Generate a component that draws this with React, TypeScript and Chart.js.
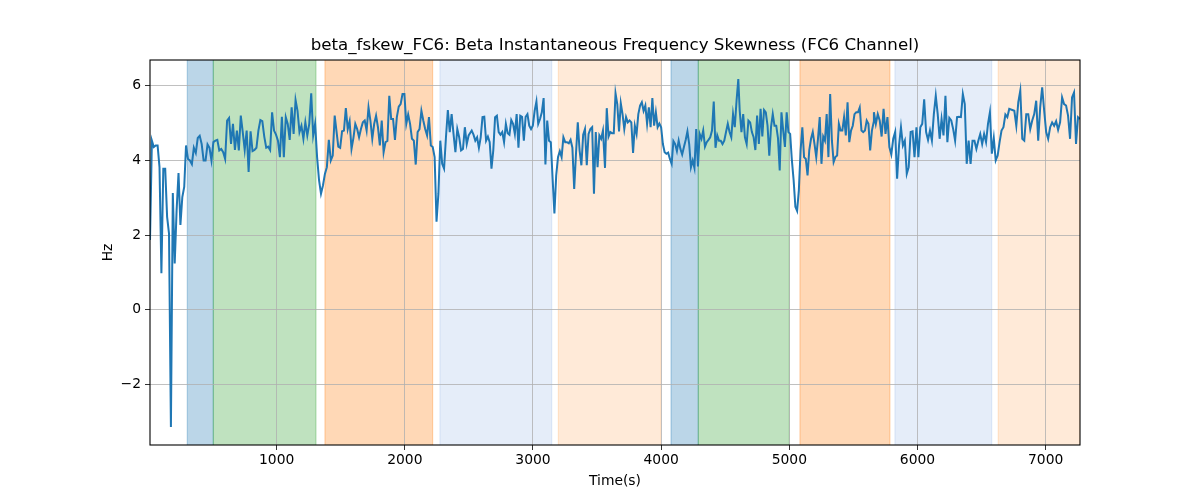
import React, { useEffect, useRef } from "react";
import { Chart, registerables } from "chart.js";

Chart.register(...registerables);

const TITLE = "beta_fskew_FC6: Beta Instantaneous Frequency Skewness (FC6 Channel)";
const X_LABEL = "Time(s)";
const Y_LABEL = "Hz";

const X_MIN = 12;
const X_MAX = 7268;
const Y_MIN = -3.62;
const Y_MAX = 6.69;

const xTicks = [1000, 2000, 3000, 4000, 5000, 6000, 7000];
const yTicks = [-2, 0, 2, 4, 6];

// Segments of the series: [startTime, endTime], evenly sampled inside each segment
const segTimes: [number, number][] = [
  [12, 279],
  [293, 1453],
  [1481, 2498],
  [2522, 3546],
  [3562, 4602],
  [4613, 5658],
  [5660, 6716],
  [6740, 7268],
];

const seg1Values = [1.87, 4.53, 4.36, 4.4, 4.4, 3.82, 0.98, 3.78, 3.78, 2.49, 2.04, -3.14, 3.13, 1.24, 2.67, 3.66, 2.27, 3.02, 3.29];
const seg2Values = [4.4, 4.04, 4.0, 3.9, 4.34, 4.2, 4.6, 4.66, 4.44, 4.0, 4.0, 4.43, 4.34, 4.0, 4.49, 4.53, 4.55, 4.27, 4.31, 4.22, 4.04, 5.07, 5.14, 4.44, 4.98, 4.28, 4.8, 4.27, 5.2, 4.76, 4.28, 4.8, 3.69, 4.78, 4.25, 4.28, 4.34, 4.8, 5.08, 5.05, 4.64, 4.34, 4.37, 4.28, 5.29, 4.8, 4.69, 4.53, 4.09, 5.17, 4.09, 5.16, 4.98, 4.55, 5.42, 4.71, 5.62, 5.33, 4.76, 4.93, 4.58, 5.02, 4.67, 4.98, 5.8, 4.67, 4.98, 4.09, 3.47, 3.11, 3.33, 3.64, 3.82, 4.55, 4.0, 4.13, 5.2];
const seg3Values = [4.37, 4.34, 4.78, 4.8, 5.4, 4.84, 5.05, 4.31, 4.6, 4.98, 4.84, 4.62, 4.84, 5.02, 5.07, 4.8, 5.42, 5.07, 4.58, 4.98, 5.2, 4.89, 4.4, 5.07, 4.22, 4.49, 4.52, 5.73, 5.11, 5.11, 4.55, 5.16, 5.44, 5.51, 5.78, 5.78, 4.98, 5.23, 4.98, 4.58, 4.53, 3.89, 4.76, 4.84, 5.33, 5.07, 4.84, 4.67, 5.16, 4.4, 4.36, 4.09, 2.36, 3.11, 4.53, 3.91, 3.78, 4.62, 5.35, 4.76, 5.24, 4.71, 4.22, 4.84, 4.62, 4.27, 4.31, 4.89, 4.44, 4.67];
const seg4Values = [4.8, 4.69, 4.53, 4.62, 4.34, 4.62, 5.16, 5.17, 4.53, 4.64, 4.49, 3.78, 4.27, 5.16, 5.2, 4.76, 4.69, 4.76, 4.49, 4.98, 4.73, 4.69, 5.08, 4.98, 4.71, 5.24, 4.34, 5.2, 5.17, 4.53, 5.17, 5.24, 4.93, 4.84, 4.93, 5.33, 5.58, 4.98, 5.11, 5.29, 5.67, 3.89, 5.07, 4.53, 4.49, 3.51, 2.58, 3.6, 4.09, 4.25, 4.09, 4.62, 4.49, 4.49, 4.46, 4.55, 4.34, 3.24, 4.18, 5.02, 4.27, 3.87, 4.69, 4.84, 3.87, 4.71, 4.84, 4.89, 3.11, 4.76, 3.82, 4.67, 4.58, 4.8];
const seg5Values = [3.8, 5.4, 4.64, 4.76, 4.73, 4.73, 5.8, 5.51, 4.78, 5.53, 5.24, 4.84, 5.16, 5.02, 5.07, 5.02, 4.2, 4.93, 4.71, 5.24, 5.47, 5.56, 5.33, 5.47, 4.98, 5.42, 4.89, 5.67, 4.93, 5.29, 4.89, 4.99, 4.89, 4.44, 4.22, 4.18, 4.21, 4.04, 3.91, 4.52, 4.44, 4.25, 4.53, 4.31, 4.16, 4.36, 4.55, 4.78, 4.44, 3.82, 4.0, 3.8, 4.84, 3.84, 4.71, 4.58, 4.8, 4.37, 4.49, 4.55, 4.62, 4.8, 5.58, 4.34, 4.67, 4.53, 4.53, 4.44, 4.53, 4.76, 4.98, 4.76, 4.62, 5.24, 4.89, 5.6, 6.18];
const seg6Values = [5.33, 4.76, 5.24, 4.62, 4.44, 5.07, 5.02, 4.76, 4.62, 4.28, 5.2, 4.44, 5.38, 4.64, 5.35, 5.29, 4.93, 4.13, 4.89, 5.24, 4.93, 4.93, 4.6, 3.73, 5.29, 4.8, 4.36, 5.29, 4.76, 4.71, 4.0, 3.47, 2.76, 2.65, 3.2, 4.27, 4.89, 4.09, 4.04, 3.6, 4.28, 4.58, 4.76, 4.44, 4.09, 4.58, 5.16, 3.91, 4.64, 4.53, 5.24, 4.09, 5.78, 4.53, 3.96, 4.09, 4.13, 4.98, 4.8, 4.8, 5.16, 4.67, 5.56, 4.49, 4.8, 4.93, 5.24, 5.29, 5.29, 5.42, 4.8, 4.76, 4.8, 5.07, 4.98, 4.27, 4.8, 5.02];
const seg7Values = [5.29, 4.98, 5.24, 5.07, 4.64, 5.38, 4.71, 5.16, 4.36, 4.16, 4.58, 4.76, 3.51, 4.4, 4.89, 4.4, 4.53, 3.64, 3.82, 4.76, 4.78, 4.09, 4.89, 4.09, 4.89, 4.98, 5.64, 4.76, 4.55, 4.8, 4.53, 5.24, 5.73, 5.24, 4.58, 5.11, 4.67, 5.73, 4.49, 5.14, 5.07, 4.84, 4.53, 5.16, 5.17, 5.16, 5.78, 5.51, 3.91, 4.53, 3.91, 4.53, 4.53, 4.31, 4.53, 4.71, 4.44, 4.71, 4.49, 4.98, 5.29, 4.18, 4.6, 4.0, 4.13, 4.49, 4.8, 4.89, 5.23, 5.16, 5.38];
const seg8Values = [5.35, 5.33, 4.93, 5.56, 5.87, 4.58, 4.53, 5.24, 5.24, 4.84, 5.07, 5.24, 5.6, 4.53, 5.42, 5.96, 5.33, 4.76, 4.58, 4.89, 5.02, 4.93, 5.05, 4.82, 5.02, 5.69, 5.51, 5.47, 5.2, 4.58, 5.69, 5.82, 4.44, 5.16, 5.11];

const segValues = [seg1Values, seg2Values, seg3Values, seg4Values, seg5Values, seg6Values, seg7Values, seg8Values];

// Shaded intervals
const spanStarts = [303, 506, 1377, 2274, 3198, 4077, 4290, 5083, 5824, 6630];
const spanEnds = [506, 1307, 2217, 3146, 3996, 4290, 5000, 5785, 6579, 7268];
const spanKinds = ["blue", "green", "orange", "lightblue", "lightorange", "blue", "green", "orange", "lightblue", "lightorange"];

const SPAN_COLORS: Record<string, string> = {
  blue: "rgba(31,119,180,0.3)",
  green: "rgba(44,160,44,0.3)",
  orange: "rgba(255,127,14,0.3)",
  lightblue: "rgba(70,130,210,0.14)",
  lightorange: "rgba(255,127,14,0.16)",
};

const FONT = "'DejaVu Sans', sans-serif";

function buildPoints() {
  const pts: { x: number; y: number }[] = [];
  segValues.forEach((vals, s) => {
    const [t0, t1] = segTimes[s];
    const n = vals.length;
    vals.forEach((v, i) => {
      pts.push({ x: t0 + (n > 1 ? (i * (t1 - t0)) / (n - 1) : 0), y: v });
    });
  });
  return pts;
}

const fmt = (v: number) => (v < 0 ? "\u2212" + Math.abs(v) : String(v));

const spanPlugin = {
  id: "spans",
  beforeDraw(chart: any) {
    const { ctx, chartArea, scales } = chart;
    const xs = scales.x;
    ctx.save();
    ctx.beginPath();
    ctx.rect(chartArea.left, chartArea.top, chartArea.right - chartArea.left, chartArea.bottom - chartArea.top);
    ctx.clip();
    spanStarts.forEach((s, i) => {
      const x0 = xs.getPixelForValue(s);
      const x1 = xs.getPixelForValue(spanEnds[i]);
      const c = SPAN_COLORS[spanKinds[i]];
      ctx.fillStyle = c;
      ctx.fillRect(x0, chartArea.top, x1 - x0, chartArea.bottom - chartArea.top);
      ctx.strokeStyle = c;
      ctx.lineWidth = 1.2;
      ctx.strokeRect(x0, chartArea.top - 2, x1 - x0, chartArea.bottom - chartArea.top + 4);
    });
    ctx.restore();
  },
  afterDraw(chart: any) {
    const { ctx, chartArea } = chart;
    ctx.save();
    ctx.strokeStyle = "#000";
    ctx.lineWidth = 1.1;
    ctx.strokeRect(chartArea.left, chartArea.top, chartArea.right - chartArea.left, chartArea.bottom - chartArea.top);
    ctx.restore();
  },
};

export default function App() {
  const ref = useRef<HTMLCanvasElement>(null);

  useEffect(() => {
    if (!ref.current) return;
    const chart = new Chart(ref.current, {
      type: "line",
      data: {
        datasets: [
          {
            data: buildPoints(),
            borderColor: "#1f77b4",
            borderWidth: 2,
            pointRadius: 0,
            tension: 0,
            fill: false,
          },
        ],
      },
      options: {
        animation: false,
        responsive: false,
        devicePixelRatio: 1,
        parsing: true,
        layout: { padding: { left: 0, right: 120, top: 0, bottom: 0 } },
        plugins: {
          legend: { display: false },
          tooltip: { enabled: false },
          title: {
            display: true,
            fullSize: false,
            text: TITLE,
            color: "#000",
            font: { family: FONT, size: 16.67, weight: "normal", lineHeight: 1.2 },
            padding: { top: 36, bottom: 4 },
          },
        },
        scales: {
          x: {
            type: "linear",
            min: X_MIN,
            max: X_MAX,
            afterBuildTicks: (scale: any) => {
              scale.ticks = xTicks.map((value) => ({ value }));
            },
            afterFit: (scale: any) => {
              scale.height = 55;
            },
            ticks: {
              color: "#000",
              font: { family: FONT, size: 13.89 },
              padding: 2,
              maxRotation: 0,
              autoSkip: false,
              callback: (v: any) => fmt(Number(v)),
            },
            grid: { color: "#b0b0b0", lineWidth: 0.8, tickColor: "#000", tickLength: 5, drawTicks: true },
            border: { display: false },
            title: {
              display: true,
              text: X_LABEL,
              color: "#000",
              font: { family: FONT, size: 13.89, lineHeight: 1.2 },
              padding: { top: 0, bottom: 10.7 },
            },
          },
          y: {
            type: "linear",
            min: Y_MIN,
            max: Y_MAX,
            afterBuildTicks: (scale: any) => {
              scale.ticks = yTicks.map((value) => ({ value }));
            },
            afterFit: (scale: any) => {
              scale.width = 150;
            },
            ticks: {
              color: "#000",
              font: { family: FONT, size: 13.89 },
              padding: 4,
              autoSkip: false,
              callback: (v: any) => fmt(Number(v)),
            },
            grid: { color: "#b0b0b0", lineWidth: 0.8, tickColor: "#000", tickLength: 5, drawTicks: true },
            border: { display: false },
            title: {
              display: true,
              text: Y_LABEL,
              color: "#000",
              font: { family: FONT, size: 13.89, lineHeight: 1.2 },
              padding: { top: 99.7, bottom: 0 },
            },
          },
        },
      },
      plugins: [spanPlugin],
    } as any);
    return () => chart.destroy();
  }, []);

  return (
    <div style={{ position: "absolute", left: 0, top: 0, width: 1200, height: 500, background: "#fff" }}>
      <canvas ref={ref} width={1200} height={500} style={{ width: 1200, height: 500 }} />
    </div>
  );
}
